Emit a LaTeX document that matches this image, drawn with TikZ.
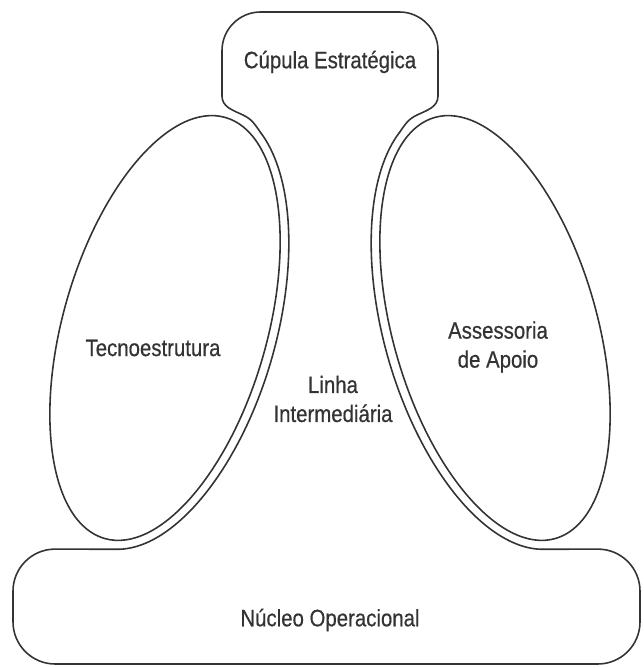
\documentclass[tikz,border=0pt]{standalone}
\usepackage{fontspec}
\setmainfont[FakeStretch=0.86, FakeBold=0.5]{Liberation Sans}
\usepackage{tikz}
\usetikzlibrary{positioning, calc}

\definecolor{inkgray}{HTML}{333333}
\tikzset{
    outline/.style={draw=inkgray, line width=0.9pt, line cap=round, line join=round},
    label/.style={text=inkgray, font=\fontsize{13.5}{16.5}\selectfont, align=center, inner sep=0pt}
}

\begin{document}
\begin{tikzpicture}[x=0.02cm, y=0.02cm]

    \useasboundingbox (0,0) rectangle (643,668);

    % --- Left ellipse (Tecnoestrutura) and its outer edge ---
    \begin{scope}[shift={(165,340)}, rotate=-16]
        \draw[outline] (0,0) ellipse [x radius=102, y radius=219];
        \coordinate (Ltop) at (70:111 and 228);
        \coordinate (Lbot) at (-82:111 and 228);
        \draw[outline] (Lbot) arc [start angle=-82, end angle=70, x radius=111, y radius=228];
    \end{scope}

    % --- Right ellipse (Assessoria de Apoio) and its outer edge ---
    \begin{scope}[shift={(495,340)}, rotate=16]
        \draw[outline] (0,0) ellipse [x radius=102, y radius=219];
        \coordinate (Rtop) at (110:111 and 228);
        \coordinate (Rbot) at (262:111 and 228);
        \draw[outline] (Rtop) arc [start angle=110, end angle=262, x radius=111, y radius=228];
    \end{scope}

    % --- Top box (Cupula) ---
    \coordinate (Lneck) at (222,572);
    \coordinate (Rneck) at (438,572);
    \draw[outline, rounded corners=22] (Lneck) -- (222,656) -- (438,656) -- (Rneck);

    % --- Neck curves down to the ellipses ---
    \draw[outline] (Lneck) to[out=-90, in=155] (243,553) to[out=-25, in=125] (Ltop);
    \draw[outline] (Rneck) to[out=-90, in=25] (417,553) to[out=-155, in=55] (Rtop);

    % --- Bottom box (Nucleo) ---
    \draw[outline, rounded corners=24] (Lbot) -- (13,119) -- (13,4) -- (640,4) -- (640,119) -- (Rbot);

    % --- Labels ---
    \node[label] (cupula) at (330,606) {Cúpula Estratégica};
    \node[label] (tecno) at (153,320) {Tecnoestrutura};
    \node[label] (apoio) at (498,321) {Assessoria\\de Apoio};
    \node[label] (linha) at (333,269) {Linha\\Intermediária};
    \node[label] (nucleo) at (330,48) {Núcleo Operacional};

\end{tikzpicture}
\end{document}
